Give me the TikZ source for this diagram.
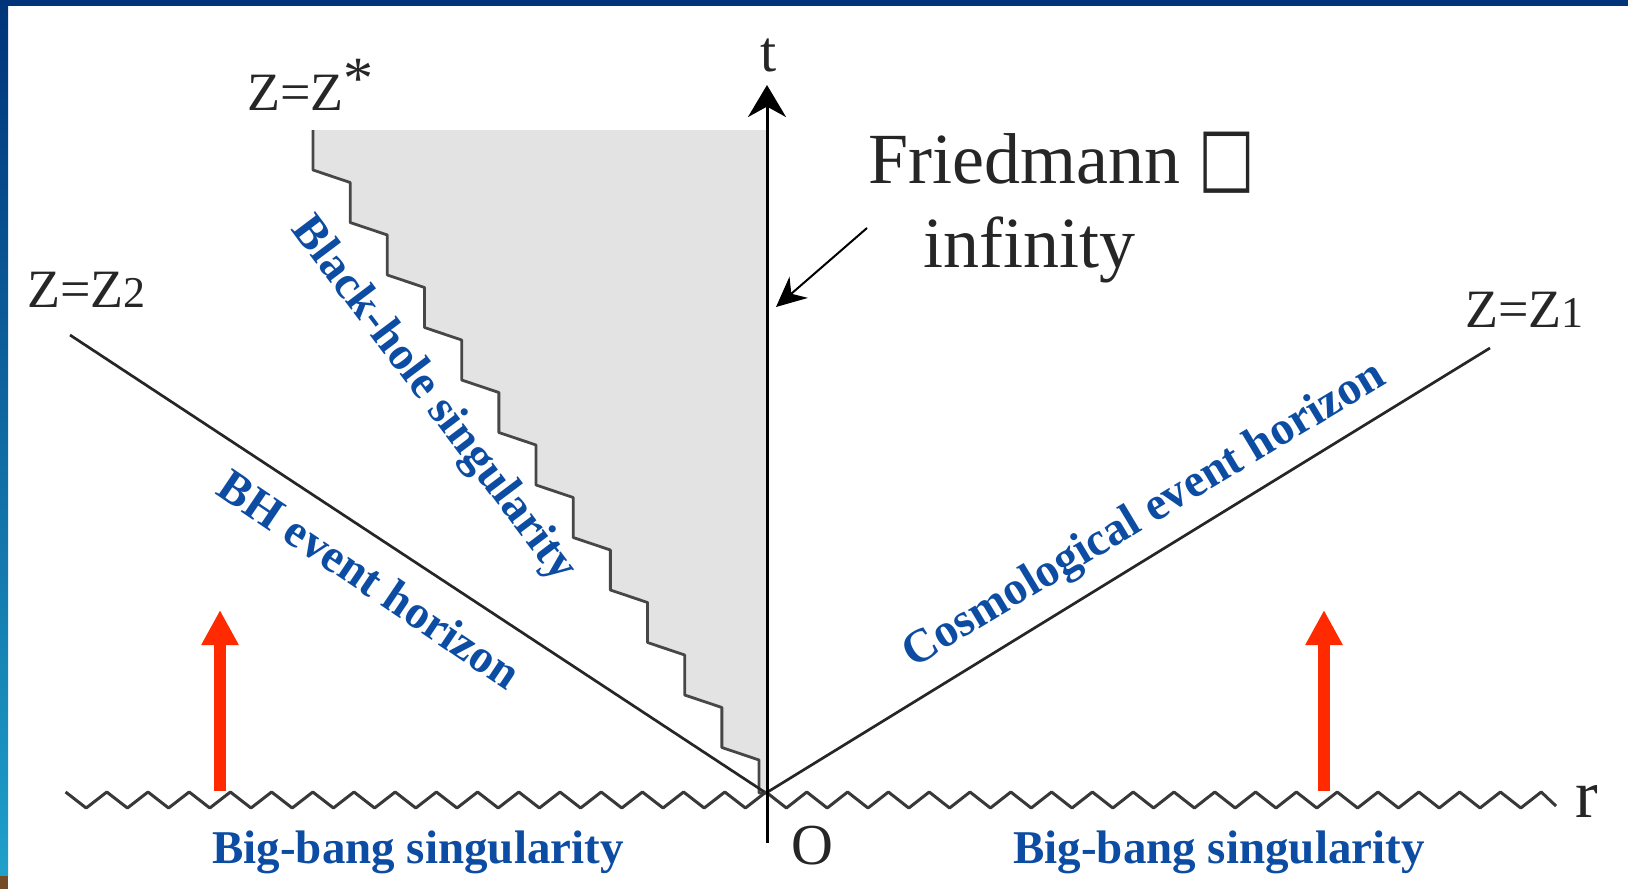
\documentclass[tikz,border=0pt]{standalone}
\usepackage{fontspec}
\setmainfont{Liberation Serif}
\newfontfamily\symfont{DejaVu Sans}
\usetikzlibrary{arrows.meta,positioning}
\definecolor{labelblue}{HTML}{0C4CA2}
\definecolor{framenavy}{HTML}{00337A}
\definecolor{framecyan}{HTML}{1FA0CA}
\definecolor{arrowred}{HTML}{FF2A00}
\definecolor{regiongray}{HTML}{E3E3E3}
\newcommand\fsize[1]{\fontsize{#1pt}{#1pt}\selectfont}
\tikzset{stairs/.style={insert path={\foreach \k in {0,...,11}{ -- ({313+37.17*\k},{170+52.5*\k}) -- ({313+37.17*(\k+1)},{182.5+52.5*\k}) } -- (759,793)}}}

\begin{document}
\begin{tikzpicture}[x=0.5pt,y=-0.5pt,>=Stealth,
  blue label/.style={font=\fsize{23.5}\bfseries,text=labelblue,inner sep=0pt},
  z label/.style={font=\fsize{27},text=black!85,anchor=base west,inner sep=0pt},
  axis label/.style={font=\fsize{29},text=black!85,inner sep=0pt},
  horizon/.style={line width=1.35pt,black!85},
  red arrow/.style={line width=5.8pt,arrowred,-{Triangle[length=17.5pt,width=17.5pt]}}]
\useasboundingbox (0,0) rectangle (1628,889);
% slide frame
\fill[framenavy] (0,0) rectangle (1628,6);
\shade[top color=framenavy,bottom color=framecyan] (0,0) rectangle (8,876);
\fill[brown!60!black] (0,876) rectangle (8,889);
% points
\coordinate (O) at (766,793);
\coordinate (tbot) at (767,843);
\coordinate (ttip) at (767,85);
\coordinate (z2) at (70,335);
\coordinate (z1) at (1490,348);
\coordinate (bbl) at (65.6,792);
\coordinate (bbr) at (1556,806);
\coordinate (fstart) at (867,228);
\coordinate (ftip) at (776,307);
% black-hole region
\fill[regiongray] (313,130) [stairs] -- (O) -- (767,130) -- cycle;
\draw[line width=1.4pt,black!72,line join=round] (313,130) [stairs] -- (O);
% horizons
\draw[horizon] (z2) -- (O) -- (z1);
% big-bang singularity
\draw[line width=1.5pt,black!78,line join=round] (bbl)
  \foreach \j in {16,...,0}{ -- ({766-41.2*\j-20.6},808) -- ({766-41.2*\j},792) }
  \foreach \j in {1,...,19}{ -- ({766+40.8*\j-20.4},808) -- ({766+40.8*\j},792) } -- (bbr);
% axes
\draw[line width=1.5pt,-{Stealth[length=16pt,width=19pt]}] (tbot) -- (ttip);
\node[axis label] (tlab) at (769,55) {t};
\node[axis label] (olab) at (812,846) {O};
\node[axis label,font=\fsize{34}] (rlab) at (1587,801) {r};
% Friedmann infinity
\node[font=\fsize{36},text=black!85,anchor=base west,inner sep=0pt] (fried) at (868,183)
  {Friedmann \scalebox{0.75}[1]{\symfont\fsize{40}□}};
\node[font=\fsize{36},text=black!85,anchor=base,inner sep=0pt] (infty) at (1029,267) {infinity};
\draw[line width=1pt,-{Stealth[length=15pt,width=14pt]}] (fstart) -- (ftip);
% z labels
\node[z label] (zstar) at (247,110) {Z=Z\raisebox{6pt}{\fsize{30}*}};
\node[z label] (ztwo) at (27,307) {Z=Z{\fsize{22}2}};
\node[z label] (zone) at (1465,327) {Z=Z{\fsize{22}1}};
% blue labels
\node[blue label,anchor=base] (bbleft) at (418,863) {Big-bang singularity};
\node[blue label,anchor=base] (bbright) at (1219,863) {Big-bang singularity};
\node[blue label,rotate=-34] (bhlab) at (370,579) {BH event horizon};
\node[blue label,rotate=-53] (bhsing) at (433,400) {Black-hole singularity};
\node[blue label,rotate=31] (coslab) at (1145,516) {Cosmological event horizon};
% red arrows
\foreach \x/\n in {220/a,1324/b}{
  \coordinate (ra\n) at (\x,791);
  \coordinate (rt\n) at (\x,610);
  \draw[red arrow] (ra\n) -- (rt\n);
}
\end{tikzpicture}
\end{document}
